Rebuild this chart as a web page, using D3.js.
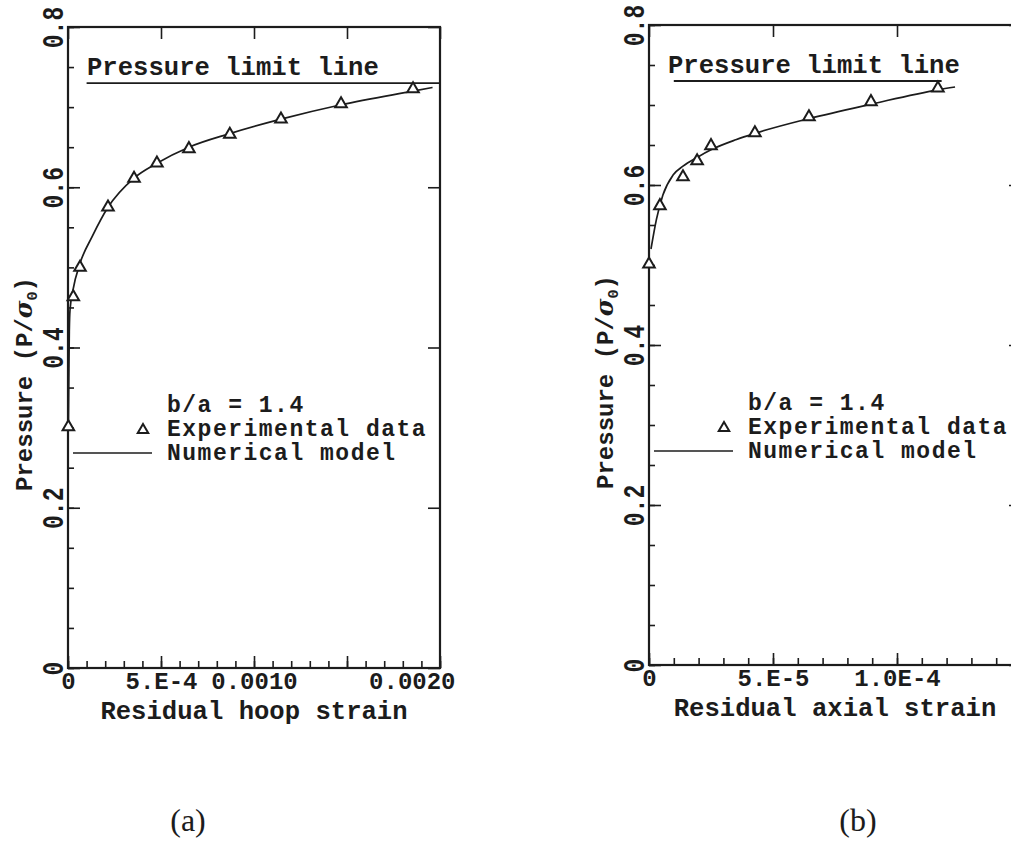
<!DOCTYPE html>
<html>
<head>
<meta charset="utf-8">
<script src="https://cdn.jsdelivr.net/npm/d3@7"></script>
<style>
  html, body { margin: 0; padding: 0; background: #fff; }
  svg { display: block; }
  .mono { font-family: 'Liberation Mono', 'DejaVu Sans Mono', monospace; font-weight: bold; fill: #1c1c1c; }
  .cap { font-family: 'Liberation Serif', 'DejaVu Serif', serif; fill: #1c1c1c; }
</style>
</head>
<body>
<svg id="chart" width="1011" height="841"></svg>
<script>
// ---- (a) residual hoop strain ----
const hoopExpStrain   = [0.000002, 0.0000285, 0.0000645, 0.000215, 0.000355, 0.000478, 0.00065, 0.00087, 0.001145, 0.001468, 0.001855];
const hoopExpPressure = [0.301, 0.463, 0.500, 0.575, 0.611, 0.630, 0.648, 0.666, 0.685, 0.704, 0.7226];
const hoopModelStrain   = [0.000002, 0.000004, 0.000007, 0.0000108, 0.0000269, 0.0000645, 0.000129, 0.000215, 0.000355, 0.000478, 0.00065, 0.00087, 0.001145, 0.001468, 0.001855, 0.00196];
const hoopModelPressure = [0.30, 0.35, 0.42, 0.447, 0.472, 0.505, 0.538, 0.575, 0.6115, 0.630, 0.650, 0.667, 0.685, 0.703, 0.720, 0.7245];
const hoopTicks      = [0, 0.0005, 0.0010, 0.0015, 0.0020];
const hoopTickLabels = ["0", "5.E-4", "0.0010", "", "0.0020"];
const hoopLimitSpan  = [0.0001, 0.0020];

// ---- (b) residual axial strain ----
const axialExpStrain   = [0.0, 4.4e-6, 1.37e-5, 1.94e-5, 2.5e-5, 4.27e-5, 6.45e-5, 8.95e-5, 1.165e-4];
const axialExpPressure = [0.501, 0.574, 0.610, 0.630, 0.649, 0.665, 0.685, 0.704, 0.721];
const axialModelStrain   = [0.8e-6, 3e-6, 5.6e-6, 9.7e-6, 1.37e-5, 1.94e-5, 2.5e-5, 3.5e-5, 4.27e-5, 6.45e-5, 8.95e-5, 1.165e-4, 1.234e-4];
const axialModelPressure = [0.52, 0.557, 0.5875, 0.6125, 0.6235, 0.6345, 0.644, 0.6565, 0.6645, 0.683, 0.701, 0.719, 0.7225];
const axialTicks      = [0, 5e-5, 1.0e-4, 1.5e-4];
const axialTickLabels = ["0", "5.E-5", "1.0E-4", ""];
const axialLimitSpan  = [1.0e-5, 1.18e-4];

// ---- shared pressure axis ----
const pressureTicks      = [0, 0.2, 0.4, 0.6, 0.8];
const pressureTickLabels = ["0", "0.2", "0.4", "0.6", "0.8"];
const pressureLimit = 0.73;
const legendLines = ["b/a = 1.4", "Experimental data", "Numerical model"];

const svg = d3.select("#chart");
const INK = "#1c1c1c";

function drawPanel(cfg) {
  const x = d3.scaleLinear().domain(cfg.xDomain).range([cfg.left, cfg.right]);
  const y = d3.scaleLinear().domain([0, 0.8]).range([cfg.bottom, cfg.top]);
  const g = svg.append("g");

  // minor ticks
  g.append("g").attr("transform", `translate(0,${cfg.bottom})`)
    .call(d3.axisBottom(x).tickValues(x.ticks(cfg.minorCount)).tickSizeInner(-7).tickSizeOuter(0).tickFormat(""));
  g.append("g").attr("transform", `translate(${cfg.left},0)`)
    .call(d3.axisLeft(y).tickValues(y.ticks(16)).tickSizeInner(-6).tickSizeOuter(0).tickFormat(""));

  // major ticks with labels
  const bx = g.append("g").attr("transform", `translate(0,${cfg.bottom})`)
    .call(d3.axisBottom(x).tickValues(cfg.xTicks).tickSizeInner(-12).tickSizeOuter(0)
      .tickFormat((d, i) => cfg.xLabels[i]));
  bx.selectAll("text").attr("class", "mono").attr("font-size", 24)
    .attr("y", 21).attr("dy", 0)
    .attr("text-anchor", (d, i) => i === cfg.xTicks.length - 1 && cfg.lastLabelShift ? "end" : "middle")
    .attr("x", (d, i) => i === cfg.xTicks.length - 1 && cfg.lastLabelShift ? cfg.lastLabelShift : 0)
    .style("fill", INK);

  // pressure labels read bottom-to-top, drawn slightly taller than wide
  const ly = g.append("g").attr("transform", `translate(${cfg.left},0)`)
    .call(d3.axisLeft(y).tickValues(pressureTicks).tickSizeInner(-12).tickSizeOuter(0)
      .tickFormat((d, i) => pressureTickLabels[i]));
  ly.selectAll("text").attr("class", "mono").attr("font-size", 23)
    .attr("transform", "rotate(-90) scale(1,1.28)").attr("x", 0).attr("y", -4).attr("dy", 0)
    .attr("text-anchor", "middle").style("fill", INK);

  g.append("g").attr("transform", `translate(0,${cfg.top})`)
    .call(d3.axisTop(x).tickValues(cfg.xTicks).tickSizeInner(-12).tickSizeOuter(0).tickFormat(""));
  g.append("g").attr("transform", `translate(${cfg.right},0)`)
    .call(d3.axisRight(y).tickValues(pressureTicks).tickSizeInner(-12).tickSizeOuter(0).tickFormat(""));

  g.selectAll(".domain").remove();
  g.selectAll(".tick line").attr("stroke", INK).attr("stroke-width", 1.6);

  // frame
  g.append("rect")
    .attr("x", cfg.left).attr("y", cfg.top)
    .attr("width", cfg.right - cfg.left).attr("height", cfg.bottom - cfg.top)
    .attr("fill", "none").attr("stroke", INK).attr("stroke-width", 2.2);

  // pressure limit line
  g.append("line")
    .attr("x1", x(cfg.limitSpan[0])).attr("x2", x(cfg.limitSpan[1]))
    .attr("y1", y(pressureLimit)).attr("y2", y(pressureLimit))
    .attr("stroke", INK).attr("stroke-width", 1.8);
  g.append("text").attr("class", "mono").attr("font-size", 25.6)
    .attr("x", cfg.left + 19).attr("y", y(pressureLimit) - 8)
    .text("Pressure limit line");

  // numerical model curve
  const model = cfg.modelX.map((v, i) => [v, cfg.modelY[i]]);
  g.append("path").datum(model)
    .attr("fill", "none").attr("stroke", INK).attr("stroke-width", 1.7)
    .attr("d", d3.line().x(d => x(d[0])).y(d => y(d[1])).curve(d3.curveMonotoneX));

  // experimental data
  const tri = d3.symbol().type(d3.symbolTriangle).size(58);
  const pts = cfg.expX.map((v, i) => [v, cfg.expY[i]]);
  g.selectAll(".pt").data(pts).join("path")
    .attr("transform", d => `translate(${x(d[0])},${y(d[1])})`)
    .attr("d", tri).attr("fill", "#fff").attr("stroke", INK).attr("stroke-width", 2);

  // legend: one text block, one line per entry
  const lx = cfg.left + 99, ly0 = cfg.top + 385;
  const leg = g.append("text").attr("class", "mono").attr("font-size", 23)
    .attr("letter-spacing", 1.5).attr("x", lx).attr("y", ly0);
  legendLines.forEach((t, i) => {
    leg.append("tspan").attr("x", lx).attr("dy", i === 0 ? 0 : 24).text(t);
  });
  g.append("path").attr("transform", `translate(${lx - 24},${ly0 + 18})`)
    .attr("d", d3.symbol().type(d3.symbolTriangle).size(48))
    .attr("fill", "#fff").attr("stroke", INK).attr("stroke-width", 2);
  g.append("line")
    .attr("x1", cfg.left + 5).attr("x2", cfg.left + 84)
    .attr("y1", ly0 + 41).attr("y2", ly0 + 41)
    .attr("stroke", INK).attr("stroke-width", 1.7);

  // axis titles
  g.append("text").attr("class", "mono").attr("font-size", 25.6)
    .attr("text-anchor", "middle")
    .attr("x", (cfg.left + cfg.right) / 2).attr("y", cfg.bottom + 51)
    .text(cfg.xTitle);

  const yt = g.append("text").attr("class", "mono").attr("font-size", 24)
    .attr("text-anchor", "middle")
    .attr("transform", `translate(${cfg.left - 36},${cfg.top + 357}) rotate(-90)`);
  yt.append("tspan").text("Pressure (P/");
  yt.append("tspan").attr("font-style", "italic").attr("font-family", "'DejaVu Serif', serif").text("σ");
  yt.append("tspan").attr("font-size", 15).attr("dy", 5).text("0");
  yt.append("tspan").attr("dy", -5).text(")");

  // panel caption
  svg.append("text").attr("class", "cap").attr("font-size", 32)
    .attr("text-anchor", "middle").attr("x", cfg.capX).attr("y", 831)
    .text(cfg.caption);
}

drawPanel({
  left: 68, right: 440, top: 27, bottom: 668,
  xDomain: [0, 0.0020], xTicks: hoopTicks, xLabels: hoopTickLabels, minorCount: 20,
  lastLabelShift: 15,
  limitSpan: hoopLimitSpan,
  expX: hoopExpStrain, expY: hoopExpPressure,
  modelX: hoopModelStrain, modelY: hoopModelPressure,
  xTitle: "Residual hoop strain", caption: "(a)", capX: 188
});

drawPanel({
  left: 649, right: 1021, top: 25, bottom: 665,
  xDomain: [0, 1.5e-4], xTicks: axialTicks, xLabels: axialTickLabels, minorCount: 15,
  lastLabelShift: 0,
  limitSpan: axialLimitSpan,
  expX: axialExpStrain, expY: axialExpPressure,
  modelX: axialModelStrain, modelY: axialModelPressure,
  xTitle: "Residual axial strain", caption: "(b)", capX: 858
});
</script>
</body>
</html>
